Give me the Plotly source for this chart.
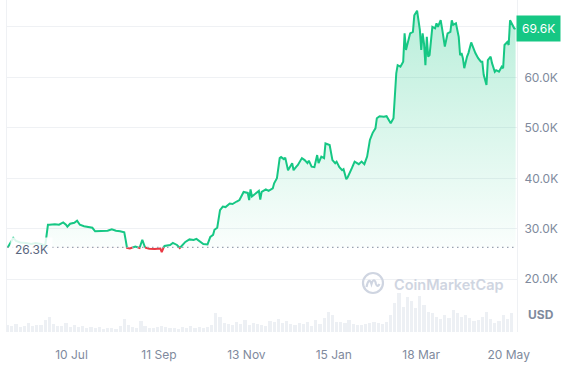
import plotly.graph_objects as go
import pandas as pd

# ---------------- data ----------------
start_date = "2023-05-25"
baseline_price_k = 26.3
current_price_k = 69.6

price_day_offsets = [
    0, 2, 4, 6, 9, 13, 17, 20, 24, 27, 28, 29, 30, 34, 37, 40, 42, 43, 45, 48,
    50, 52, 55, 58, 61, 63, 66, 69, 72, 75, 78, 81, 84, 85, 86, 88, 92, 95, 97, 99,
    102, 106, 110, 111, 112, 113, 117, 119, 122, 124, 126, 128, 131, 134, 136, 138, 141, 144, 146, 148,
    149, 151, 153, 155, 157, 160, 162, 165, 167, 170, 173, 174, 175, 176, 179, 181, 182, 183, 186, 188,
    191, 192, 194, 196, 197, 199, 200, 202, 205, 206, 208, 209, 212, 214, 216, 217, 219, 221, 223, 224,
    226, 228, 229, 231, 232, 234, 236, 237, 239, 241, 242, 244, 245, 248, 250, 253, 255, 257, 259, 261,
    263, 265, 266, 268, 271, 273, 275, 276, 278, 279, 280, 281, 283, 285, 286, 287, 289, 290, 292, 293,
    295, 296, 297, 298, 299, 300, 301, 302, 303, 304, 306, 308, 309, 310, 312, 313, 315, 317, 319, 320,
    321, 323, 325, 326, 327, 328, 329, 331, 332, 334, 335, 337, 339, 341, 342, 343, 345, 346, 348, 349,
    351, 352, 354, 356, 357, 358, 360, 361, 362, 364, 365, 366,
]
price_k = [
    26.3, 27.2, 28.2, 27.6, 27.3, 27.2, 27.0, 27.2, 27.0, 26.6, 28.8, 30.8, 30.8, 30.9, 30.8, 31.25, 30.8, 30.4, 31.0, 31.2,
    31.6, 30.8, 30.5, 30.4, 30.2, 29.5, 29.5, 29.6, 29.6, 29.9, 29.6, 29.5, 29.3, 27.8, 26.2, 26.1, 26.5, 26.2, 27.8, 26.3,
    26.05, 26.0, 26.1, 25.4, 26.1, 26.6, 26.8, 27.2, 26.8, 26.2, 26.8, 27.4, 27.9, 27.8, 28.0, 27.6, 27.0, 26.9, 28.4, 28.8,
    29.8, 30.2, 33.7, 34.4, 34.3, 35.0, 34.9, 35.4, 35.7, 37.3, 37.1, 35.7, 37.8, 36.4, 37.0, 37.5, 35.8, 37.3, 37.8, 37.5,
    38.0, 39.0, 40.0, 44.0, 44.2, 43.8, 44.1, 41.6, 43.0, 41.6, 42.3, 42.6, 44.0, 43.6, 43.0, 43.5, 42.3, 42.2, 44.6, 43.0,
    44.3, 44.0, 46.9, 46.6, 46.6, 43.6, 43.0, 43.3, 42.2, 41.6, 41.8, 39.8, 40.2, 42.0, 43.3, 42.8, 43.3, 42.8, 44.3, 47.6,
    49.0, 49.9, 51.9, 52.3, 52.2, 52.3, 51.5, 50.9, 51.9, 56.2, 60.8, 62.4, 62.1, 63.1, 68.7, 65.4, 67.7, 68.7, 69.0, 72.3,
    73.2, 71.3, 69.4, 65.4, 68.7, 66.7, 62.4, 68.0, 64.1, 64.4, 70.0, 69.7, 70.7, 70.0, 71.3, 69.7, 66.1, 68.7, 69.0, 71.3,
    70.4, 70.7, 68.0, 64.4, 64.8, 63.8, 61.8, 64.1, 64.8, 66.9, 66.1, 64.8, 63.8, 63.1, 63.1, 60.5, 58.5, 63.4, 64.1, 62.8,
    61.1, 61.4, 61.1, 62.1, 61.8, 66.4, 67.0, 66.4, 71.3, 70.0, 69.7, 69.6,
]

# daily volume (billion USD), one value every 3 days
volume_step_days = 3
volume_b = [
    14, 12, 16, 11, 13, 18, 12, 15, 14, 24,
    30, 16, 13, 12, 18, 11, 14, 10, 12, 9,
    11, 8, 10, 7, 9, 8, 7, 13, 26, 14,
    10, 8, 22, 12, 9, 8, 11, 13, 10, 9,
    8, 7, 10, 9, 12, 8, 11, 9, 10, 14,
    38, 30, 18, 16, 14, 20, 17, 24, 15, 18,
    16, 14, 13, 22, 20, 26, 19, 23, 17, 14,
    18, 16, 20, 13, 24, 17, 28, 40, 35, 21,
    20, 18, 24, 16, 14, 15, 17, 18, 20, 19,
    16, 20, 35, 58, 78, 50, 70, 62, 48, 72,
    55, 40, 38, 30, 26, 34, 28, 44, 38, 30,
    35, 28, 22, 24, 30, 40, 26, 18, 22, 34,
    26, 38,
]

x_tick_dates = ["2023-07-10", "2023-09-11", "2023-11-13", "2024-01-15", "2024-03-18", "2024-05-20"]
x_tick_labels = ["10 Jul", "11 Sep", "13 Nov", "15 Jan", "18 Mar", "20 May"]
y_tick_vals = [20, 30, 40, 50, 60, 70]
y_tick_labels = ["20.0K", "30.0K", "40.0K", "50.0K", "60.0K", ""]

# ---------------- styling ----------------
GREEN = "#16c784"
RED = "#ea3943"
GRID = "#eff1f4"
TICK = "#808a9d"
FONT = "Inter, sans-serif"

start = pd.Timestamp(start_date)
dates = [start + pd.Timedelta(days=d) for d in price_day_offsets]
base = baseline_price_k

# insert baseline crossings so the colour switch happens exactly at the baseline
xs, ys = [], []
for i in range(len(dates)):
    if i > 0:
        y0, y1 = price_k[i - 1], price_k[i]
        if (y0 - base) * (y1 - base) < 0:
            t = (base - y0) / (y1 - y0)
            xs.append(dates[i - 1] + (dates[i] - dates[i - 1]) * t)
            ys.append(base)
    xs.append(dates[i])
    ys.append(price_k[i])

green_line = [y if y >= base else None for y in ys]
red_line = [y if y <= base else None for y in ys]
green_fill = [max(y, base) for y in ys]
red_fill = [min(y, base) for y in ys]
base_line = [base for _ in ys]

vol_dates = [start + pd.Timedelta(days=volume_step_days * i) for i in range(len(volume_b))]

fig = go.Figure()

fig.add_trace(go.Bar(
    x=vol_dates, y=volume_b, yaxis="y2",
    marker=dict(color="#edf0f4", line=dict(width=0)),
    width=2.3 * 86400000, hoverinfo="skip",
))

fig.add_trace(go.Scatter(x=xs, y=base_line, mode="lines", line=dict(width=0), hoverinfo="skip"))
fig.add_trace(go.Scatter(
    x=xs, y=green_fill, mode="lines", line=dict(width=0), fill="tonexty",
    fillgradient=dict(type="vertical",
                      colorscale=[[0, "rgba(22,199,132,0.02)"], [1, "rgba(22,199,132,0.30)"]]),
    hoverinfo="skip",
))
fig.add_trace(go.Scatter(x=xs, y=base_line, mode="lines", line=dict(width=0), hoverinfo="skip"))
fig.add_trace(go.Scatter(
    x=xs, y=red_fill, mode="lines", line=dict(width=0), fill="tonexty",
    fillcolor="rgba(234,57,67,0.08)", hoverinfo="skip",
))
fig.add_trace(go.Scatter(x=xs, y=green_line, mode="lines", line=dict(color=GREEN, width=2)))
fig.add_trace(go.Scatter(x=xs, y=red_line, mode="lines", line=dict(color=RED, width=2)))

# dotted baseline
fig.add_shape(type="line", xref="paper", yref="y", x0=0, x1=1, y0=base, y1=base,
              line=dict(color="#9aa2b1", width=1.3, dash="1.5px,3.5px"), layer="above")

# watermark logo
logo_x, logo_y = 0.7176, 0.1476
fig.add_shape(type="circle", xref="paper", yref="paper", xsizemode="pixel", ysizemode="pixel",
              xanchor=logo_x, yanchor=logo_y, x0=-10, x1=10, y0=-10, y1=10,
              line=dict(color="#cfd5e1", width=2.2))
fig.add_shape(type="path", xref="paper", yref="paper", xsizemode="pixel", ysizemode="pixel",
              xanchor=logo_x, yanchor=logo_y,
              path="M -6.5,-4 C -5,3 -3,4 -1.5,-1 C 0,4 2,4 3,-1 C 4,-4 5.5,-3 6.5,-1",
              line=dict(color="#cfd5e1", width=2.2))

fig.add_annotation(xref="paper", yref="paper", x=0.7543, y=0.1416, xanchor="left", yanchor="middle",
                   text="CoinMarketCap", showarrow=False,
                   font=dict(family=FONT, size=14.5, color="#cfd5e1", weight=600))

# baseline label
fig.add_annotation(xref="paper", yref="y", x=0, y=base, xanchor="left", yanchor="middle",
                   xshift=3, yshift=-2, text="26.3K", showarrow=False,
                   bgcolor="rgba(255,255,255,0.85)", borderpad=4,
                   font=dict(family=FONT, size=12, color="#58667e"))

# current price badge
fig.add_annotation(xref="paper", yref="y", x=1, y=current_price_k, xanchor="left", yanchor="middle",
                   text="69.6K", showarrow=False, bgcolor=GREEN, borderpad=5, xshift=-1,
                   font=dict(family=FONT, size=12, color="white"))

# USD label
fig.add_annotation(xref="paper", yref="paper", x=1.047, y=0.0542, xanchor="center", yanchor="middle",
                   text="<b>USD</b>", showarrow=False,
                   font=dict(family=FONT, size=12, color=TICK))

fig.update_layout(
    width=566, height=377,
    margin=dict(l=7, r=49, t=0, b=45),
    paper_bgcolor="white", plot_bgcolor="white",
    showlegend=False,
    font=dict(family=FONT, size=12, color=TICK),
    bargap=0,
    xaxis=dict(
        type="date",
        range=[start - pd.Timedelta(hours=12), start + pd.Timedelta(days=367)],
        tickvals=x_tick_dates, ticktext=x_tick_labels,
        showgrid=False, zeroline=False, showline=False,
        ticks="outside", ticklen=12, tickcolor="rgba(0,0,0,0)",
        tickfont=dict(family=FONT, size=12, color=TICK),
    ),
    yaxis=dict(
        side="right", range=[9.56, 75.31],
        tickvals=y_tick_vals, ticktext=y_tick_labels,
        showgrid=True, gridcolor=GRID, gridwidth=1, zeroline=False,
        showline=True, mirror=True, linecolor=GRID, linewidth=1,
        ticks="outside", ticklen=4, tickcolor="rgba(0,0,0,0)",
        tickfont=dict(family=FONT, size=12, color=TICK),
    ),
    yaxis2=dict(overlaying="y", range=[0, 664], visible=False, fixedrange=True),
)

fig.write_html("out.html", config={"displayModeBar": False},
               post_script="document.body.style.margin='0';document.body.style.overflow='hidden';")
